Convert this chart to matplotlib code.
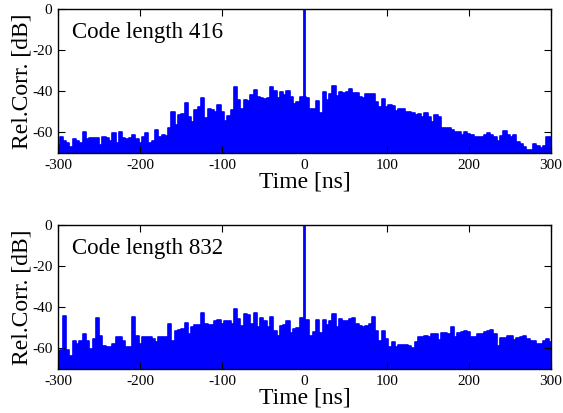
import numpy as np
import matplotlib
matplotlib.use("Agg")
import matplotlib.pyplot as plt

# 时间轴 (ns), 每 4 ns 一个点
time_ns = np.arange(-300, 301, 4)

# 码长 416 的旁瓣 (dB), 从图上读出; t=0 处为主峰两侧的底
corr_416 = [
    -66, -62, -64, -65, -67, -63, -64, -65, -60, -63, -62.5, -62.5, -62.5,
    -66, -62, -62.5, -64, -60.5, -65, -60, -62.5, -63, -62.5, -61, -63, -65,
    -62, -60.5, -65, -64, -58.7, -62, -61, -61.5, -58, -50, -56.5, -51.5,
    -51.1, -45.7, -52.7, -55.1, -49, -47.8, -43.4, -53.2, -48.6, -49.1, -50.2,
    -46.7, -50.2, -54.3, -51.9, -49.3, -38, -44.1, -48.6, -44.1, -44.6, -42,
    -39.2, -42.9, -43.4, -43.7, -43.4, -38, -39.7, -43.4, -40.5, -41.8, -39.7,
    -42.9, -46.2, -45.4, -42.9,
    -43,
    -43.1, -48.6, -48.6, -44.6, -50.6, -40.5, -44.1, -41.3, -37.2, -42.1,
    -40.5, -40.8, -40.5, -38.9, -40.8, -40.8, -42.9, -43.1, -41.3, -41.3,
    -41.3, -45.4, -47.8, -43.7, -47.8, -46.7, -47.0, -49.4, -48.6, -48.6,
    -50.2, -50.2, -50.6, -51.4, -51.2, -52.7, -50.5, -52.7,
    -55.1, -51.5, -52.7, -58.0, -57.6, -57.6, -58.9, -59.7, -59.7, -61.3,
    -60.0, -60.8, -61.0, -62.3, -62.0, -62.0, -61.3, -60.3, -61.3, -62.4,
    -64.1, -61.6, -59.2, -61.3, -62.0, -61.0, -64.6, -65.7, -67.3, -68.5,
    -68.5, -65.7, -66.5, -67.8, -66.5, -62.0, -62.4,
]

# 码长 832 的旁瓣 (dB)
corr_832 = [
    -61.1, -60.8, -44.1, -61, -63.6, -56.6, -57.6, -56.3, -53.0, -56.3, -60.3,
    -55.6, -45, -53.8, -58.7, -59.2, -59.5, -57.9, -54.6, -54.3, -56.3, -59.5,
    -59.5, -44.6, -53.8, -57.9, -54.3, -54.6, -54.6, -55.4, -57.1, -54.6,
    -54.3, -54.3, -48.1, -56.3, -51.4, -51.1,
    -50.6, -47.5, -53.0, -49.8, -48.8, -48.5, -43, -48.1, -48.5, -48.5, -46.5,
    -46.2, -48.1, -46.5, -46.8, -48.1, -40.8, -45.9, -48.9, -43.3, -43.6,
    -48.1, -42.9, -49.8, -45.2, -46.8, -49.8, -44.9, -51.4, -53.8, -48.9,
    -48.5, -46.5, -52.7, -50.6, -50.1, -45,
    -46,
    -46.2, -53.8, -52.2, -46, -52.4, -46, -48.5, -46.5, -43.3, -49.4, -45.7,
    -46.5, -46.8, -45.7, -45.2, -48.1, -48.9, -49.8, -49.1, -48.1, -44.9,
    -51.4, -56.3, -51.7, -55.4, -59.5, -57.1, -59.5, -58.2, -58.2, -58.4,
    -58.7, -59.8, -57.1, -54.6, -54.6, -53.8, -54.6,
    -53.0, -53.0, -55.9, -52.7, -52.7, -53.0, -49.8, -54.6, -52.4, -52.2,
    -51.4, -52.2, -54.6, -54.3, -53.0, -53.0, -52.2, -51.7, -51.1, -53.0,
    -58.7, -55.1, -55.0, -53.8, -54.0, -55.9, -55.1, -54.6, -54.0, -55.6,
    -56.6, -56.3, -57.6, -57.6, -56.3, -55.4, -57.1,
]

# 主峰
peak_time = [0]
peak_level = [0]

panel_titles = ["Code length 416", "Code length 832"]
x_ticks = [-300, -200, -100, 0, 100, 200, 300]
y_ticks = [-60, -40, -20, 0]

plt.rcParams["font.family"] = ["Liberation Serif", "DejaVu Serif"]
plt.rcParams["axes.unicode_minus"] = False


def draw_panel(ax, values, title):
    """画一个相关函数子图"""
    ax.fill_between(time_ns, -80, values, step="mid", color="#0000FF", linewidth=0)
    ax.plot(time_ns, values, drawstyle="steps-mid", color="#0000FF", linewidth=1.2)
    ax.vlines(peak_time, -80, peak_level, color="#0000FF", linewidth=2)

    ax.set_xlim(-300, 300)
    ax.set_ylim(-70, 0)
    ax.set_xticks(x_ticks)
    ax.set_yticks(y_ticks)
    ax.tick_params(direction="in", top=True, right=True, length=5, width=0.8,
                   labelsize=11, pad=4)
    for spine in ax.spines.values():
        spine.set_linewidth(1.0)

    ax.set_xlabel("Time [ns]", fontsize=17, labelpad=0)
    ax.set_ylabel("Rel.Corr. [dB]", fontsize=17, labelpad=0)
    ax.text(0.028, 0.84, title, transform=ax.transAxes, fontsize=16.5, va="center")


fig = plt.figure(figsize=(5.63, 4.13), dpi=100)
ax_top = fig.add_axes([0.103, 0.6295, 0.8757, 0.3487])
ax_bottom = fig.add_axes([0.103, 0.1065, 0.8757, 0.3487])

draw_panel(ax_top, corr_416, panel_titles[0])
draw_panel(ax_bottom, corr_832, panel_titles[1])

fig.savefig("out.png", dpi=100)
